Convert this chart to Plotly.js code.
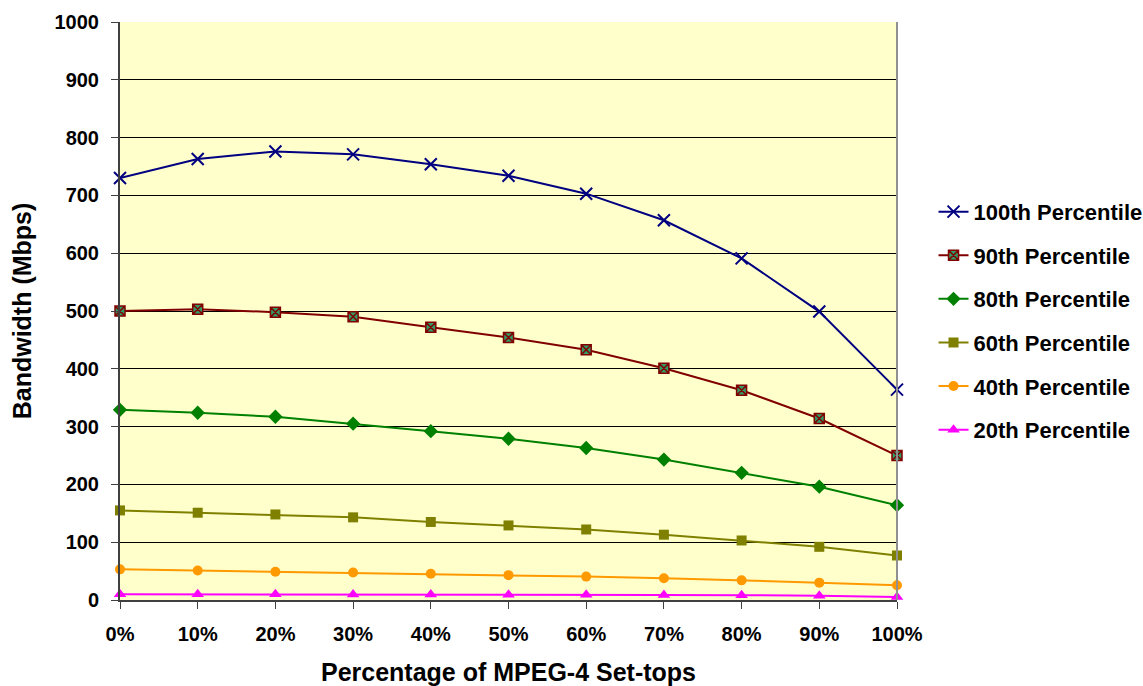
<!DOCTYPE html>
<html>
<head>
<meta charset="utf-8">
<script src="https://cdn.plot.ly/plotly-3.0.1.min.js"></script>
<style>html,body{margin:0;padding:0;background:#fff;}#chart{width:1143px;height:686px;}</style>
</head>
<body>
<div id="chart"></div>
<script>
var categories = ['0%','10%','20%','30%','40%','50%','60%','70%','80%','90%','100%'];
var p100 = [730, 763, 776, 771, 754, 734, 703, 657, 591, 499, 364];
var p90  = [500, 503, 498, 490, 472, 454, 433, 401, 363, 314, 250];
var p80  = [329, 324, 317, 305, 292, 279, 263, 243, 220, 196, 164];
var p60  = [155, 151, 148, 143, 135, 129, 122, 113, 103, 92, 77];
var p40  = [53, 51, 49, 47.5, 45.5, 43, 40.5, 37.5, 34, 30, 25.5];
var p20  = [10, 10, 9.8, 9.6, 9.4, 9.2, 9, 8.7, 8.3, 7.5, 5];
var seriesNames = ['100th Percentile','90th Percentile','80th Percentile','60th Percentile','40th Percentile','20th Percentile'];

function tr(name, y, color, marker, g) {
  return {x: categories, y: y, name: name, type: 'scatter', mode: 'lines+markers',
    line: {color: color, width: 2}, marker: marker, legendgroup: g, cliponaxis: false};
}
var data = [
  tr(seriesNames[0], p100, '#000080', {symbol: 'x-thin-open', size: 12, color: '#000080', line: {color: '#000080', width: 2}}, 'a'),
  tr(seriesNames[1], p90, '#800000', {symbol: 'square-x', size: 10, color: '#339966', line: {color: '#800000', width: 1.5}}, 'b'),
  tr(seriesNames[2], p80, '#008000', {symbol: 'diamond', size: 11, color: '#008000'}, 'c'),
  tr(seriesNames[3], p60, '#808000', {symbol: 'square', size: 10, color: '#808000'}, 'd'),
  tr(seriesNames[4], p40, '#FF9900', {symbol: 'circle', size: 10, color: '#FF9900'}, 'e'),
  tr(seriesNames[5], p20, '#FF00FF', {symbol: 'triangle-up', size: 11, color: '#FF00FF'}, 'f')
];

var fam = 'Liberation Sans, Arial, sans-serif';
var layout = {
  width: 1143, height: 686,
  margin: {l: 120, r: 246, t: 22, b: 86, autoexpand: false},
  paper_bgcolor: '#ffffff',
  plot_bgcolor: '#FFFFCC',
  font: {family: fam, color: '#000'},
  showlegend: true,
  legend: {x: 1.047, xanchor: 'left', y: 0.483, yanchor: 'middle', tracegroupgap: 12,
    font: {family: fam, size: 22, color: '#000', weight: 'bold'}, bgcolor: 'rgba(0,0,0,0)'},
  xaxis: {
    type: 'category', range: [0, 10],
    title: {text: '<b>Percentage of MPEG-4 Set-tops</b>', font: {size: 25, family: fam}, standoff: 20},
    tickfont: {size: 20, family: fam, weight: 'bold'},
    ticks: 'outside', ticklen: 7, tickcolor: '#404040', ticklabelstandoff: 8,
    showline: true, linecolor: '#404040', linewidth: 2,
    showgrid: false, zeroline: false
  },
  yaxis: {
    range: [0, 1000], dtick: 100,
    title: {text: '<b>Bandwidth (Mbps)</b>', font: {size: 25, family: fam}, standoff: 16},
    tickfont: {size: 20, family: fam, weight: 'bold'},
    ticks: 'outside', ticklen: 7, tickcolor: '#404040', ticklabelstandoff: 8,
    showline: true, linecolor: '#404040', linewidth: 2,
    showgrid: true, gridcolor: '#000000', gridwidth: 1,
    zeroline: false
  },
  shapes: [{type: 'line', xref: 'paper', yref: 'paper', x0: 1, x1: 1, y0: 0, y1: 1,
    line: {color: '#909090', width: 2}}]
};
Plotly.newPlot('chart', data, layout, {displayModeBar: false});
</script>
</body>
</html>
